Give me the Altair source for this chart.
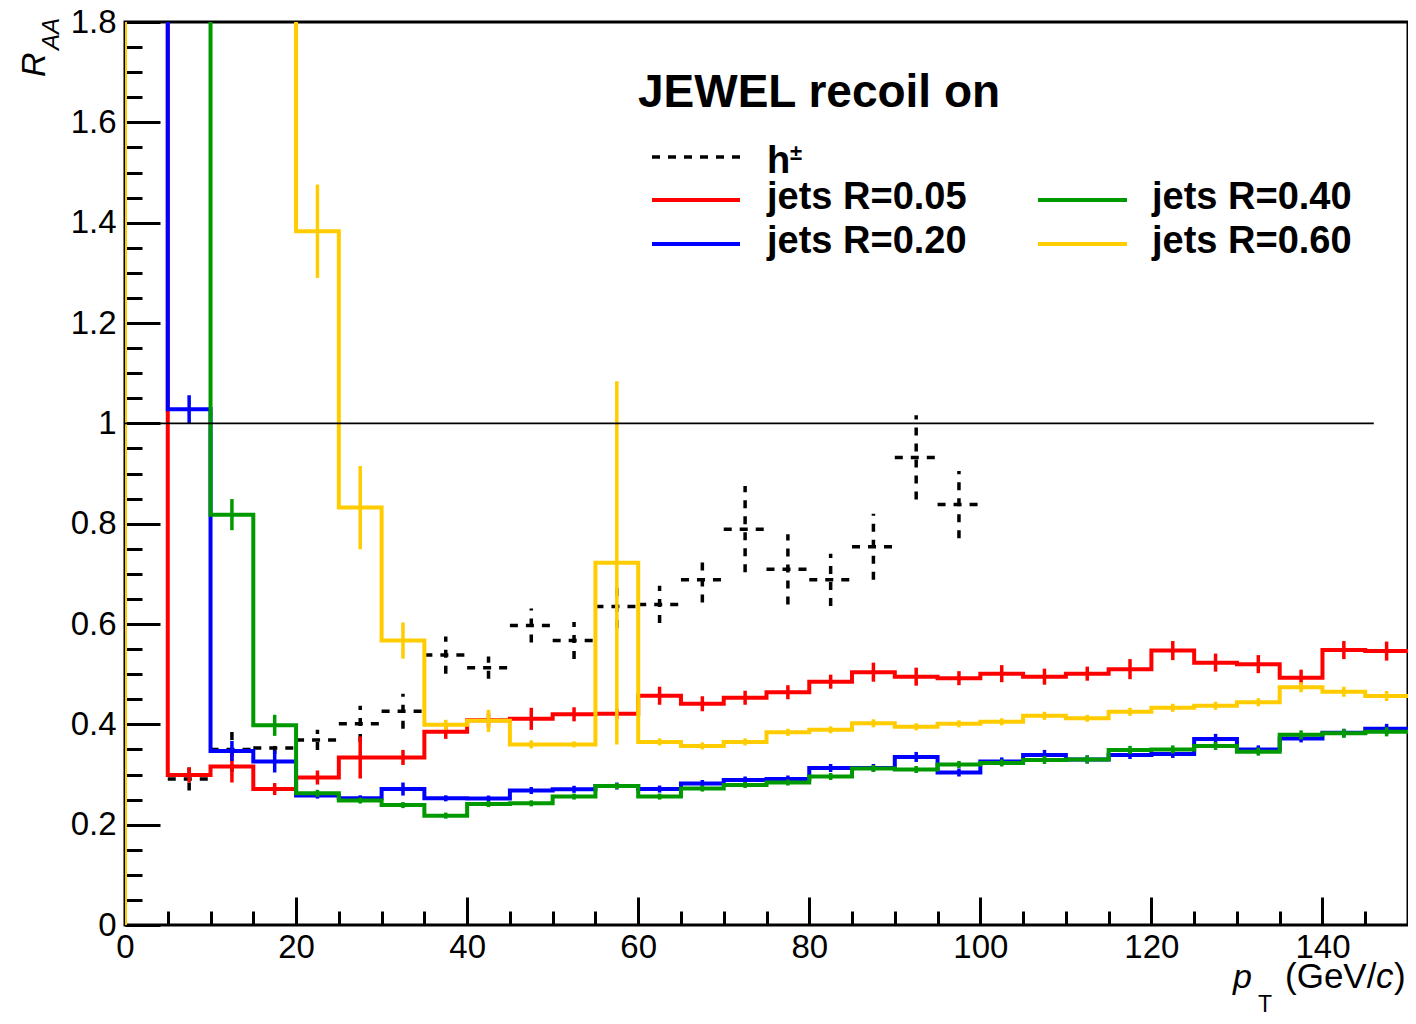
import altair as alt
import pandas as pd

# ---------------- data ----------------
jet_bin_lo = [0, 5, 10, 15, 20, 25, 30, 35, 40, 45, 50, 55, 60, 65, 70,
              75, 80, 85, 90, 95, 100, 105, 110, 115, 120, 125, 130, 135, 140, 145]
bin_width = 5

# values above 1.8 are off the plotted range (estimated)
r005 = [2.2, 0.299, 0.316, 0.271, 0.294, 0.334, 0.334, 0.385, 0.408, 0.411,
        0.420, 0.421, 0.457, 0.441, 0.453, 0.464, 0.485, 0.504, 0.495, 0.492,
        0.501, 0.495, 0.501, 0.510, 0.547, 0.523, 0.520, 0.493, 0.548, 0.546]
r005_err = [0, 0.015, 0.032, 0.012, 0.014, 0.042, 0.015, 0.014, 0.014, 0.022,
            0.014, 0.010, 0.018, 0.015, 0.014, 0.014, 0.014, 0.019, 0.018, 0.014,
            0.017, 0.016, 0.014, 0.020, 0.019, 0.018, 0.018, 0.016, 0.018, 0.019]

r020 = [2.2, 1.028, 0.347, 0.326, 0.258, 0.2525, 0.271, 0.2525, 0.252, 0.268,
        0.2705, 0.277, 0.271, 0.282, 0.289, 0.291, 0.313, 0.313, 0.335, 0.304,
        0.326, 0.339, 0.330, 0.339, 0.341, 0.371, 0.350, 0.372, 0.383, 0.391]
r020_err = [0, 0.028, 0.020, 0.022, 0.006, 0.006, 0.013, 0.006, 0.006, 0.007,
            0.007, 0.007, 0.007, 0.007, 0.007, 0.007, 0.008, 0.008, 0.010, 0.008,
            0.008, 0.010, 0.008, 0.008, 0.008, 0.010, 0.008, 0.008, 0.008, 0.010]

r040 = [2.2, 2.2, 0.818, 0.398, 0.2625, 0.248, 0.239, 0.218, 0.241, 0.2425,
        0.256, 0.277, 0.256, 0.272, 0.279, 0.284, 0.296, 0.312, 0.310, 0.320,
        0.323, 0.329, 0.330, 0.349, 0.350, 0.357, 0.3455, 0.379, 0.382, 0.385]
r040_err = [0, 0, 0.031, 0.021, 0.007, 0.006, 0.006, 0.006, 0.006, 0.006,
            0.006, 0.006, 0.006, 0.006, 0.006, 0.006, 0.007, 0.007, 0.007, 0.007,
            0.007, 0.008, 0.008, 0.008, 0.008, 0.008, 0.008, 0.009, 0.009, 0.009]

r060 = [2.2, 2.2, 2.2, 2.2, 1.383, 0.832, 0.567, 0.399, 0.407, 0.360,
        0.360, 0.722, 0.365, 0.357, 0.365, 0.384, 0.389, 0.402, 0.395, 0.401,
        0.405, 0.417, 0.412, 0.425, 0.433, 0.437, 0.444, 0.474, 0.465, 0.4565]
r060_err = [0, 0, 0, 0, 0.093, 0.083, 0.036, 0.010, 0.022, 0.008,
            0.006, 0.362, 0.007, 0.007, 0.007, 0.007, 0.007, 0.008, 0.007, 0.007,
            0.007, 0.008, 0.007, 0.008, 0.008, 0.008, 0.008, 0.010, 0.010, 0.010]

had_bin_lo = [5, 10, 15, 20, 25, 30, 35, 40, 45, 50, 55, 60, 65, 70, 75, 80, 85, 90, 95]
had = [0.291, 0.350, 0.353, 0.369, 0.401, 0.426, 0.538, 0.513, 0.597, 0.567,
       0.635, 0.639, 0.688, 0.789, 0.709, 0.688, 0.754, 0.932, 0.838]
had_err = [0.023, 0.045, 0.012, 0.020, 0.036, 0.035, 0.037, 0.022, 0.034, 0.037,
           0.043, 0.037, 0.045, 0.086, 0.070, 0.052, 0.066, 0.084, 0.067]

unity_line = {"x0": [0], "x1": [146], "y": [1.0]}

x_major = [0, 20, 40, 60, 80, 100, 120, 140]
x_minor = [5, 10, 15, 25, 30, 35, 45, 50, 55, 65, 70, 75, 85, 90, 95,
           105, 110, 115, 125, 130, 135, 145]
y_major = [0, 0.2, 0.4, 0.6, 0.8, 1.0, 1.2, 1.4, 1.6, 1.8]
y_minor = [0.05, 0.1, 0.15, 0.25, 0.3, 0.35, 0.45, 0.5, 0.55, 0.65, 0.7, 0.75,
           0.85, 0.9, 0.95, 1.05, 1.1, 1.15, 1.25, 1.3, 1.35, 1.45, 1.5, 1.55,
           1.65, 1.7, 1.75]

series = [
    ("jets R=0.05", r005, r005_err, "#ff0000"),
    ("jets R=0.20", r020, r020_err, "#0000ff"),
    ("jets R=0.40", r040, r040_err, "#009900"),
    ("jets R=0.60", r060, r060_err, "#ffcc00"),
]

# ---------------- layout ----------------
W, H = 1283, 903
FONT = "Liberation Sans"
xs = alt.Scale(domain=[0, 150], nice=False, zero=False)
ys = alt.Scale(domain=[0, 1.8], nice=False, zero=False)
one = pd.DataFrame({"a": [0]})


def step_frame(vals):
    rows = [{"x": 0, "y": 0.0, "o": 0}]
    for i, v in enumerate(vals):
        lo = jet_bin_lo[i]
        rows.append({"x": lo, "y": v, "o": 2 * i + 1})
        rows.append({"x": lo + bin_width, "y": v, "o": 2 * i + 2})
    return pd.DataFrame(rows)


def err_frame(lo_list, vals, errs):
    return pd.DataFrame({
        "c": [lo + bin_width / 2 for lo in lo_list],
        "lo": lo_list,
        "hi": [lo + bin_width for lo in lo_list],
        "v": vals,
        "elo": [v - e for v, e in zip(vals, errs)],
        "ehi": [v + e for v, e in zip(vals, errs)],
    })


layers = []

# hadrons: dashed black horizontal bars + vertical errors
hdf = err_frame(had_bin_lo, had, had_err)
dash = [8, 8]
layers.append(alt.Chart(hdf).mark_rule(color="black", strokeWidth=3.5, strokeDash=dash, clip=True).encode(
    x=alt.X("lo:Q", scale=xs, axis=None), x2="hi:Q", y=alt.Y("v:Q", scale=ys, axis=None)))
layers.append(alt.Chart(hdf).mark_rule(color="black", strokeWidth=3.5, strokeDash=dash, clip=True).encode(
    x=alt.X("c:Q", scale=xs, axis=None), y=alt.Y("elo:Q", scale=ys, axis=None), y2="ehi:Q"))

# jets: step histograms + error bars
for name, vals, errs, col in series:
    sdf = step_frame(vals)
    layers.append(alt.Chart(sdf).mark_line(color=col, strokeWidth=4, clip=True, strokeJoin="miter",
                                           strokeCap="butt").encode(
        x=alt.X("x:Q", scale=xs, axis=None), y=alt.Y("y:Q", scale=ys, axis=None), order="o:Q"))
    edf = err_frame(jet_bin_lo, vals, errs)
    layers.append(alt.Chart(edf).mark_rule(color=col, strokeWidth=3.5, clip=True).encode(
        x=alt.X("c:Q", scale=xs, axis=None), y=alt.Y("elo:Q", scale=ys, axis=None), y2="ehi:Q"))

# unity line
layers.append(alt.Chart(pd.DataFrame(unity_line)).mark_rule(color="black", strokeWidth=1.6).encode(
    x=alt.X("x0:Q", scale=xs, axis=None), x2="x1:Q", y=alt.Y("y:Q", scale=ys, axis=None)))

# axes: labels
axdf = pd.DataFrame({"x": [0], "y": [0]})
layers.append(alt.Chart(axdf).mark_point(opacity=0).encode(
    x=alt.X("x:Q", scale=xs, title=None, axis=alt.Axis(
        orient="bottom", values=x_major, ticks=False, domain=False, grid=False, labelFlush=False,
        labelFont=FONT, labelFontSize=33, labelColor="black", labelPadding=6, format="d")),
    y=alt.Y("y:Q", scale=ys, title=None, axis=alt.Axis(
        orient="left", values=y_major, ticks=False, domain=False, grid=False, labelFlush=False,
        labelFont=FONT, labelFontSize=33, labelColor="black", labelPadding=9, format="~g"))))
# axes: major ticks (inside)
layers.append(alt.Chart(axdf).mark_point(opacity=0).encode(
    x=alt.X("x:Q", scale=xs, title=None, axis=alt.Axis(
        orient="top", offset=-H, values=x_major, tickSize=28, tickWidth=3, tickColor="black",
        labels=False, domain=False, grid=False)),
    y=alt.Y("y:Q", scale=ys, title=None, axis=alt.Axis(
        orient="right", offset=-W, values=y_major, tickSize=35, tickWidth=3, tickColor="black",
        labels=False, domain=False, grid=False))))
# axes: minor ticks (inside)
layers.append(alt.Chart(axdf).mark_point(opacity=0).encode(
    x=alt.X("x:Q", scale=xs, title=None, axis=alt.Axis(
        orient="top", offset=-H, values=x_minor, tickSize=14, tickWidth=3, tickColor="black",
        labels=False, domain=False, grid=False)),
    y=alt.Y("y:Q", scale=ys, title=None, axis=alt.Axis(
        orient="right", offset=-W, values=y_minor, tickSize=17, tickWidth=3, tickColor="black",
        labels=False, domain=False, grid=False))))


def txt(text, gx, gy, size, weight="normal", style="normal", align="left", angle=0):
    return alt.Chart(one).mark_text(text=text, font=FONT, fontSize=size, fontWeight=weight,
                                    fontStyle=style, align=align, baseline="alphabetic",
                                    angle=angle, color="black").encode(
        x=alt.value(gx), y=alt.value(gy))


# axis titles
layers.append(txt("p", 1108, 966, 34, style="italic"))
layers.append(txt("T", 1133, 990, 23))
layers.append(txt("(GeV/", 1160, 966, 35))
layers.append(txt("c", 1251, 966, 35, style="italic"))
layers.append(txt(")", 1269, 966, 35))
layers.append(txt("R", -80, 55, 34, style="italic", angle=270))
layers.append(txt("AA", -66, 28, 24, style="italic", angle=270))

# legend
layers.append(txt("JEWEL recoil on", 513, 85, 46, weight="bold"))
legend_rows = [
    ("h", "black", 527, 615, 135, 642, 151, True),
    ("jets R=0.05", "#ff0000", 527, 615, 178, 642, 187, False),
    ("jets R=0.20", "#0000ff", 527, 615, 222, 642, 231, False),
    ("jets R=0.40", "#009900", 913, 1002, 178, 1027, 187, False),
    ("jets R=0.60", "#ffcc00", 913, 1002, 222, 1027, 231, False),
]
for lab, col, sx0, sx1, sy, tx, ty, dashed in legend_rows:
    props = dict(color=col, strokeWidth=4)
    if dashed:
        props["strokeDash"] = dash
        props["strokeWidth"] = 3.5
    layers.append(alt.Chart(one).mark_rule(**props).encode(
        x=alt.value(sx0), x2=alt.value(sx1), y=alt.value(sy)))
    layers.append(txt(lab, tx, ty, 38, weight="bold"))
layers.append(txt("±", 665, 138, 22, weight="bold"))

chart = alt.layer(*layers).resolve_axis(x="independent", y="independent").properties(
    width=W, height=H,
    autosize=alt.AutoSizeParams(type="none"),
    padding={"left": 117, "top": 14, "right": 0, "bottom": 91},
    background="white",
).configure_view(stroke="black", strokeWidth=3)

chart.save("out.html", embed_options={"renderer": "svg", "actions": False})
